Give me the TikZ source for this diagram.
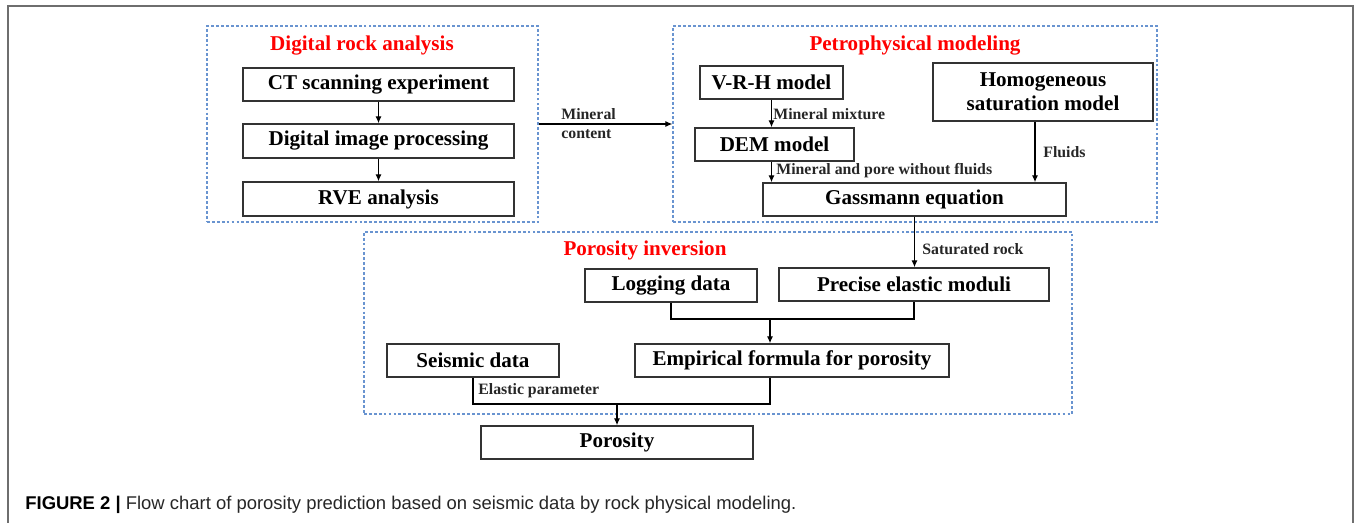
\documentclass[tikz,border=0pt]{standalone}
\usepackage{fontspec}
\setmainfont{Liberation Serif}
\newfontfamily\capfont{Liberation Sans}
\usepackage{xcolor}
\usepackage{tikz}
\usetikzlibrary{positioning,calc,fit,arrows.meta}
\definecolor{grpblue}{RGB}{105,148,208}
\definecolor{frmgray}{RGB}{110,110,110}

\begin{document}
\begin{tikzpicture}[x=0.02cm, y=-0.02cm,
    box/.style={draw=black!80, line width=0.8pt, minimum height=0.66cm, inner sep=0pt, align=center, font=\fontsize{12}{13.5}\selectfont\bfseries},
    grp/.style={draw=grpblue, line width=0.7pt, dash pattern=on 1.6pt off 1.2pt, inner sep=0pt},
    ttl/.style={text=red, font=\fontsize{12}{14}\selectfont\bfseries},
    lbl/.style={anchor=west, inner sep=0pt, text=black!85, font=\fontsize{9}{11}\selectfont\bfseries},
    arr/.style={-{Latex[length=4pt,width=3.5pt]}, line width=0.7pt},
    ln/.style={line width=0.7pt}]
    \useasboundingbox (0,0) rectangle (1354,523);
    \draw[frmgray, line width=0.9pt] (8,523) -- (8,6) -- (1353,6) -- (1353,523);

    % the three dashed groups
    \node[grp, fit={(207,26) (538,222)}] (rockgrp) {};
    \node[grp, fit={(673,26) (1157,222)}] (petrogrp) {};
    \node[grp, fit={(364,232) (1072,414)}] (invgrp) {};

    % digital rock analysis
    \node[ttl] (rockttl) at (362,46) {Digital rock analysis};
    \node[box, minimum width=5.42cm] (ct) at (378.5,84.5) {CT scanning experiment};
    \node[box, minimum width=5.42cm, minimum height=0.68cm] (dip) at (378.5,141) {Digital image processing};
    \node[box, minimum width=5.42cm, minimum height=0.68cm] (rve) at (378.5,199) {RVE analysis};
    \draw[arr] (ct) -- (dip);
    \draw[arr] (dip) -- (rve);

    \draw[arr] (rockgrp.east) -- (petrogrp.west);
    \node[lbl, align=left] (mclbl) at (561,123.5) {Mineral\\content};

    % petrophysical modeling
    \node[ttl] (petrottl) at (915,46) {Petrophysical modeling};
    \node[box, minimum width=2.86cm] (vrh) at (771.5,82.5) {V-R-H model};
    \node[box, minimum width=3.18cm] (dem) at (774.5,144.5) {DEM model};
    \node[box, minimum width=4.4cm, minimum height=1.16cm] (homo) at (1043,92) {Homogeneous\\saturation model};
    \node[box, minimum width=6.06cm] (gass) at (914.5,199.5) {Gassmann equation};
    \draw[arr] (vrh.south) -- (vrh.south |- dem.north);
    \draw[arr] (dem.south -| vrh.south) -- (vrh.south |- gass.north);
    \coordinate (flx) at ([xshift=-0.16cm]homo.south);
    \draw[arr] (flx) -- (flx |- gass.north);
    \node[lbl] (mmlbl) at (773,114) {Mineral mixture};
    \node[lbl] (mplbl) at (776,171) {Mineral and pore without fluids};
    \node[lbl] (fllbl) at (1043,152) {Fluids};

    % porosity inversion
    \node[ttl] (invttl) at (645,250) {Porosity inversion};
    \node[box, minimum width=3.44cm] (log) at (671,285.5) {Logging data};
    \node[box, minimum width=5.4cm] (prec) at (914,284.5) {Precise elastic moduli};
    \node[box, minimum width=3.44cm] (seis) at (473,360.5) {Seismic data};
    \node[box, minimum width=6.28cm] (emp) at (792,360.5) {Empirical formula for porosity};
    \node[box, minimum width=5.44cm] (poro) at (617,442.5) {Porosity};
    \draw[arr] (gass.south) -- (gass.south |- prec.north);
    \node[lbl] (srlbl) at (922,249) {Saturated rock};
    \coordinate (jn) at (770,319);
    \draw[ln] (log.south) |- (jn) -| (prec.south);
    \draw[arr] (jn) -- (jn |- emp.north);
    \coordinate (jp) at ($(poro.north |- 0,404)$);
    \draw[ln] (seis.south) |- (jp);
    \draw[ln] (jn |- emp.south) |- (jp);
    \draw[arr] (jp) -- (poro.north);
    \node[lbl] (eplbl) at (478,391) {Elastic parameter};

    \node[anchor=west, inner sep=0pt, text=black!85, font=\capfont\fontsize{10.5}{12}\selectfont] (cap) at (25,505) {\textbf{\color{black}FIGURE 2 |} Flow chart of porosity prediction based on seismic data by rock physical modeling.};
\end{tikzpicture}
\end{document}
